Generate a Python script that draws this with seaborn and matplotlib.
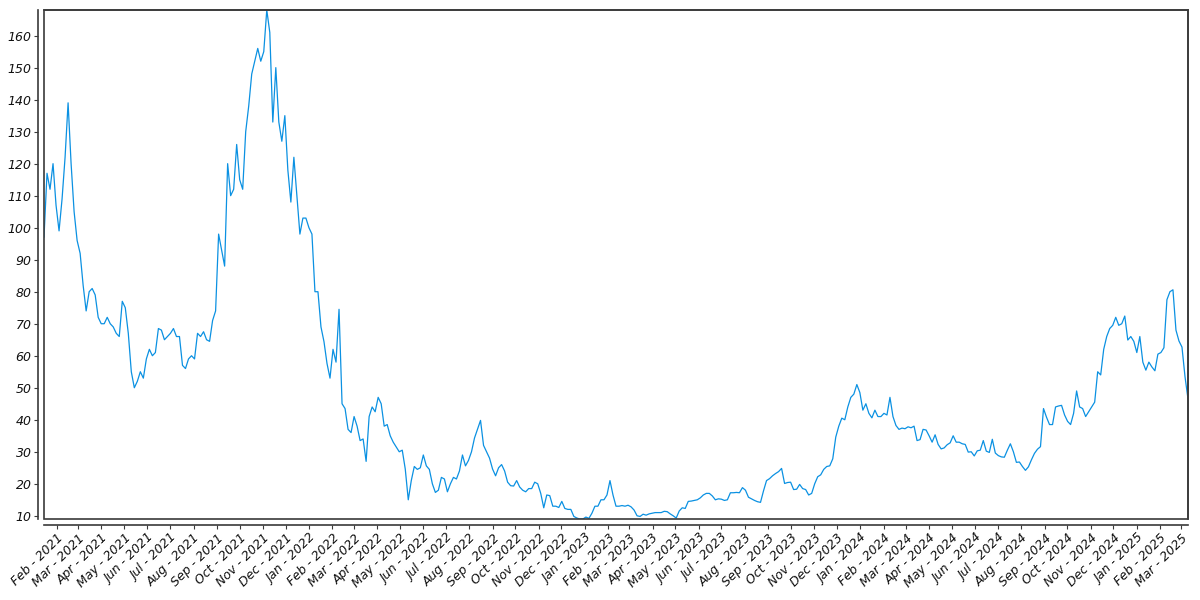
import numpy as np
import pandas as pd
import matplotlib
matplotlib.use("Agg")
import matplotlib.pyplot as plt
import matplotlib.dates as mdates
from matplotlib.patches import Rectangle
import seaborn as sns

start_date = "2021-01-15"
end_date = "2025-03-10"

values = [
    97, 117, 112, 120, 107, 99, 109, 122, 139, 120,
    105, 96, 92, 82, 74, 80, 81, 79, 72, 70,
    70, 72, 70, 69, 67, 66, 77, 75, 67, 55,
    50, 52, 55, 53, 59, 62, 60, 61, 68.5, 68,
    65, 66, 67, 68.5, 66, 66, 57, 56, 59, 60,
    59, 67, 66, 67.5, 65, 64.5, 71, 74, 98, 93,
    88, 120, 110, 112, 126, 115, 112, 130, 138, 148,
    152, 156, 152, 155, 168, 161, 133, 150, 133, 127,
    135, 118, 108, 122, 110, 98, 103, 103, 100, 98,
    80, 80, 69, 64.4, 57.6, 53, 62, 58, 74.5, 45,
    43.5, 37, 36, 41, 38, 33.5, 34, 27, 41, 44,
    42.5, 47, 45, 38, 38.5, 35, 33, 31.5, 30, 30.5,
    24.6, 15, 21, 25.4, 24.5, 25, 29, 25.6, 24.5, 20,
    17.3, 18, 22, 21.5, 17.5, 20, 22, 21.5, 24, 29,
    25.6, 27.3, 30, 34.3, 37, 39.8, 32, 30, 28, 24.6,
    22.5, 25, 26, 24, 20.5, 19.4, 19.3, 21, 19, 18,
    17.5, 18.5, 18.5, 20.5, 20, 17, 12.5, 16.5, 16.3, 13,
    13, 12.6, 14.5, 12.3, 12, 12, 9.8, 9.3, 9, 9,
    9.6, 9.2, 10.8, 13, 13, 15, 15, 16.5, 21, 16.5,
    13, 13, 13.2, 13, 13.3, 12.8, 11.8, 10, 9.8, 10.5,
    10.2, 10.6, 10.8, 11, 11, 11, 11.4, 11.3, 10.6, 10,
    9.3, 11.5, 12.5, 12.3, 14.5, 14.6, 14.8, 15, 15.6, 16.5,
    17, 17, 16.2, 15, 15.3, 15.2, 14.8, 15, 17.2, 17.2,
    17.3, 17.2, 18.8, 18, 15.8, 15.3, 14.8, 14.4, 14.2, 17.8,
    21, 21.6, 22.5, 23.2, 23.8, 24.8, 20.1, 20.4, 20.5, 18.2,
    18.3, 19.8, 18.5, 18.2, 16.5, 17, 20, 22.2, 22.8, 24.5,
    25.4, 25.6, 27.8, 34.6, 38, 40.5, 40, 44, 47, 48,
    51, 48.5, 43, 45, 42, 40.6, 43, 41, 41, 42,
    41.5, 47, 41, 38.2, 37, 37.4, 37.2, 37.8, 37.5, 38,
    33.5, 33.8, 37, 36.8, 35, 33, 35.3, 32.3, 30.9, 31.2,
    32.2, 32.8, 35, 33, 33, 32.5, 32.3, 29.9, 30, 28.7,
    30.3, 30.5, 33.5, 30.2, 29.8, 33.9, 29.6, 28.8, 28.4, 28.3,
    30.5, 32.5, 30, 26.7, 26.8, 25.4, 24.2, 25.3, 27.5, 29.5,
    30.8, 31.6, 43.5, 40.8, 38.5, 38.5, 44, 44.3, 44.5, 41.5,
    39.5, 38.5, 42, 49, 44, 43.5, 41, 42.5, 44, 45.5,
    55, 54, 62, 66, 68.5, 69.5, 72, 69.5, 70, 72.4,
    64.9, 66, 64.5, 61, 66, 58, 55.5, 58, 56.5, 55.3,
    60.5, 61, 62.5, 77.5, 80, 80.6, 68, 64.6, 62.7, 53.5,
    46.5,
]

y_ticks = [10, 20, 30, 40, 50, 60, 70, 80, 90, 100, 110, 120, 130, 140, 150, 160]

dates = pd.date_range(start=start_date, end=end_date, periods=len(values))
df = pd.DataFrame({"date": dates, "value": values})

sns.set_theme(style="ticks")
plt.rcParams["font.family"] = ["DejaVu Sans"]
plt.rcParams["font.style"] = "italic"
plt.rcParams["xtick.labelcolor"] = "#111111"
plt.rcParams["ytick.labelcolor"] = "#111111"

fig = plt.figure(figsize=(12, 6), dpi=100)
ax = fig.add_axes([44 / 1200, 1 - 519 / 600, (1188 - 44) / 1200, (519 - 10) / 600])

sns.lineplot(data=df, x="date", y="value", ax=ax, color="#0b91e2", linewidth=0.9)

ax.margins(x=0, y=0)
ax.set_xlim(df["date"].min(), df["date"].max())
ax.set_ylim(min(values), max(values))
ax.set_xlabel("")
ax.set_ylabel("")

ax.set_yticks(y_ticks)
ax.xaxis.set_major_locator(mdates.MonthLocator())
ax.xaxis.set_major_formatter(mdates.DateFormatter("%b - %Y"))

edge = "#3a3a3a"
for side in ["left", "bottom", "top", "right"]:
    ax.spines[side].set_color(edge)
    ax.spines[side].set_linewidth(1.2)
ax.spines["left"].set_position(("outward", 4))
ax.spines["bottom"].set_position(("outward", 4))
ax.add_patch(Rectangle((0, 0), 1, 1, transform=ax.transAxes, fill=False,
                       edgecolor=edge, linewidth=1.2, clip_on=False, zorder=5))

ax.tick_params(axis="both", length=3, width=0.8, color=edge, pad=2, labelsize=9,
               labelcolor="#111111")
plt.setp(ax.get_xticklabels(), rotation=45, ha="right", rotation_mode="anchor",
         fontstyle="italic")
plt.setp(ax.get_yticklabels(), fontstyle="italic")

fig.savefig("out.png", dpi=100, facecolor="white")
